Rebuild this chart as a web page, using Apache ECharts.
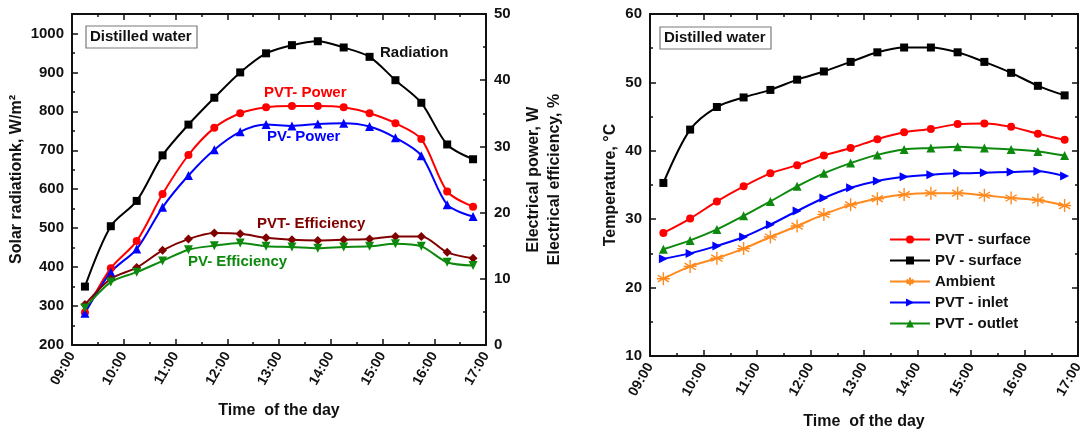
<!DOCTYPE html>
<html>
<head>
<meta charset="utf-8">
<script src="https://cdn.jsdelivr.net/npm/echarts@6/dist/echarts.min.js"></script>
<style>
  html, body { margin: 0; padding: 0; background: #fff; }
  #chart { width: 1091px; height: 435px; }
</style>
</head>
<body>
<div id="chart"></div>
<script>
  /** Data */
  var times = [9.25, 9.75, 10.25, 10.75, 11.25, 11.75, 12.25, 12.75, 13.25, 13.75, 14.25, 14.75, 15.25, 15.75, 16.25, 16.75];
  var hourTicks = ['09:00', '10:00', '11:00', '12:00', '13:00', '14:00', '15:00', '16:00', '17:00'];

  // left panel
  var radiation = [350, 505, 570, 687, 766, 835, 900, 949, 970, 980, 964, 940, 880, 822, 715, 677];
  var pvtPower = [4.9, 11.6, 15.7, 22.8, 28.7, 32.8, 35.0, 35.9, 36.1, 36.1, 35.9, 35.0, 33.5, 31.1, 23.2, 20.9];
  var pvPower = [4.8, 11.0, 14.5, 20.8, 25.6, 29.5, 32.2, 33.3, 33.1, 33.4, 33.5, 33.0, 31.3, 28.6, 21.2, 19.4];
  var pvtEfficiency = [6.1, 10.0, 11.7, 14.3, 16.0, 16.9, 16.8, 16.2, 15.9, 15.8, 15.9, 16.0, 16.4, 16.4, 14.0, 13.1];
  var pvEfficiency = [5.6, 9.5, 11.0, 12.7, 14.4, 15.0, 15.4, 14.9, 14.8, 14.6, 14.8, 14.9, 15.3, 14.9, 12.5, 12.0];

  // right panel
  var pvtSurface = [28.0, 30.1, 32.6, 34.8, 36.7, 37.9, 39.3, 40.4, 41.7, 42.7, 43.2, 43.9, 44.0, 43.5, 42.5, 41.6];
  var pvSurface = [35.3, 43.1, 46.4, 47.8, 48.9, 50.4, 51.6, 53.0, 54.4, 55.1, 55.1, 54.4, 53.0, 51.4, 49.5, 48.1];
  var ambient = [21.3, 23.1, 24.3, 25.7, 27.4, 29.0, 30.7, 32.1, 33.0, 33.6, 33.8, 33.8, 33.5, 33.1, 32.8, 32.0];
  var pvtInlet = [24.2, 25.0, 26.1, 27.4, 29.2, 31.2, 33.1, 34.6, 35.6, 36.2, 36.5, 36.7, 36.8, 36.9, 37.0, 36.3];
  var pvtOutlet = [25.6, 26.9, 28.5, 30.5, 32.6, 34.8, 36.7, 38.2, 39.4, 40.2, 40.4, 40.6, 40.4, 40.2, 39.9, 39.3];

  var FONT = 'Liberation Sans, Arial, sans-serif';
  var ASTERISK = 'path://M5 0L5 10M0.7 2.5L9.3 7.5M9.3 2.5L0.7 7.5M0 5L10 5';

  function pairs(values) {
    return times.map(function(t, i) { return [t, values[i]]; });
  }

  function hourLabel(v) {
    return hourTicks[Math.round(v - 9)] || '';
  }

  function timeAxis(grid, top) {
    return {
      type: 'value', gridIndex: grid, min: 9, max: 17, interval: 1,
      position: top ? 'top' : 'bottom',
      name: top ? '' : 'Time  of the day',
      nameLocation: 'middle', nameGap: 58,
      nameTextStyle: { fontFamily: FONT, fontWeight: 'bold', fontSize: 16, color: '#111' },
      axisLine: { show: true, onZero: false, lineStyle: { color: '#111', width: 2 } },
      axisTick: { show: true, inside: true, length: 6, lineStyle: { color: '#111', width: 1.5 } },
      minorTick: { show: true, splitNumber: 2, length: 3, lineStyle: { color: '#111', width: 1.5 } },
      axisLabel: {
        show: !top, rotate: 60, margin: 8, formatter: hourLabel,
        fontFamily: FONT, fontWeight: 'bold', fontSize: 14, color: '#111'
      },
      splitLine: { show: false }
    };
  }

  function valueAxis(grid, pos, min, max, interval, name, gap, showLabel) {
    return {
      type: 'value', gridIndex: grid, position: pos, min: min, max: max, interval: interval,
      name: name, nameLocation: 'middle', nameGap: gap,
      nameTextStyle: { fontFamily: FONT, fontWeight: 'bold', fontSize: 16, color: '#111', lineHeight: 21 },
      axisLine: { show: true, onZero: false, lineStyle: { color: '#111', width: 2 } },
      axisTick: { show: true, inside: true, length: 6, lineStyle: { color: '#111', width: 1.5 } },
      minorTick: { show: true, splitNumber: 2, length: 3, lineStyle: { color: '#111', width: 1.5 } },
      axisLabel: {
        show: showLabel, margin: 8,
        formatter: function(v) { return (v - min) % interval === 0 ? String(v) : ''; },
        fontFamily: FONT, fontWeight: 'bold', fontSize: 15, color: '#111'
      },
      splitLine: { show: false }
    };
  }

  function line(name, x, y, values, color, symbol, size, rotate) {
    return {
      name: name, type: 'line', xAxisIndex: x, yAxisIndex: y,
      data: pairs(values), smooth: 0.3,
      symbol: symbol, symbolSize: size, symbolRotate: rotate || 0,
      showAllSymbol: true,
      lineStyle: { color: color, width: 2 },
      itemStyle: { color: color },
      emphasis: { disabled: true },
      z: 3
    };
  }

  var ambientSeries = line('Ambient', 2, 2, ambient, '#ff8a1f', ASTERISK, 13);
  ambientSeries.itemStyle = { color: 'none', borderColor: '#ff8a1f', borderWidth: 1.4 };

  function note(text, x, y, color, size) {
    return {
      type: 'text', z: 10,
      style: { text: text, x: x, y: y, fill: color, font: 'bold ' + (size || 15) + 'px ' + FONT, textVerticalAlign: 'middle' }
    };
  }

  function labelBox(x, y) {
    return {
      type: 'group', z: 10,
      children: [
        { type: 'rect', shape: { x: x, y: y, width: 111, height: 22 }, style: { fill: '#fff', stroke: '#7a7a7a', lineWidth: 1.2 } },
        { type: 'text', style: { text: 'Distilled water', x: x + 4, y: y + 11, fill: '#111', font: 'bold 15px ' + FONT, textVerticalAlign: 'middle' } }
      ]
    };
  }

  var option = {
    animation: false,
    backgroundColor: '#fff',
    grid: [
      { left: 72, top: 14, width: 414, height: 331 },
      { left: 650, top: 14, width: 428, height: 343 }
    ],
    xAxis: [timeAxis(0, false), timeAxis(0, true), timeAxis(1, false), timeAxis(1, true)],
    yAxis: [
      valueAxis(0, 'left', 200, 1050, 100, 'Solar radiationk, W/m\u00b2', 42, true),
      valueAxis(0, 'right', 0, 50, 10, 'Electrical power, W\nElectrical efficiency, %', 37, true),
      valueAxis(1, 'left', 10, 60, 10, 'Temperature, \u00b0C', 28, true),
      valueAxis(1, 'right', 10, 60, 10, '', 0, false)
    ],
    legend: {
      orient: 'vertical', left: 884, top: 227,
      itemWidth: 40, itemHeight: 10, itemGap: 6,
      data: ['PVT - surface', 'PV - surface', 'Ambient', 'PVT - inlet', 'PVT - outlet'],
      textStyle: { fontFamily: FONT, fontWeight: 'bold', fontSize: 15, color: '#111' }
    },
    series: [
      line('Radiation', 0, 0, radiation, '#000', 'rect', 8),
      line('PVT- Power', 0, 1, pvtPower, '#ff0000', 'circle', 8),
      line('PV- Power', 0, 1, pvPower, '#0000ff', 'triangle', 9),
      line('PVT- Efficiency', 0, 1, pvtEfficiency, '#800000', 'diamond', 9),
      line('PV- Efficiency', 0, 1, pvEfficiency, '#0d8a0d', 'triangle', 9, 180),
      line('PVT - surface', 2, 2, pvtSurface, '#ff0000', 'circle', 8),
      line('PV - surface', 2, 2, pvSurface, '#000', 'rect', 8),
      ambientSeries,
      line('PVT - inlet', 2, 2, pvtInlet, '#0000ff', 'triangle', 9, -90),
      line('PVT - outlet', 2, 2, pvtOutlet, '#0d8a0d', 'triangle', 9)
    ],
    graphic: [
      labelBox(86, 26),
      labelBox(660, 27),
      note('Radiation', 380, 53, '#111'),
      note('PVT- Power', 264, 93, '#ff0000'),
      note('PV- Power', 267, 137, '#0000ff'),
      note('PVT- Efficiency', 257, 224, '#800000'),
      note('PV- Efficiency', 188, 262, '#0d8a0d')
    ]
  };

  echarts.init(document.getElementById('chart')).setOption(option);
</script>
</body>
</html>
